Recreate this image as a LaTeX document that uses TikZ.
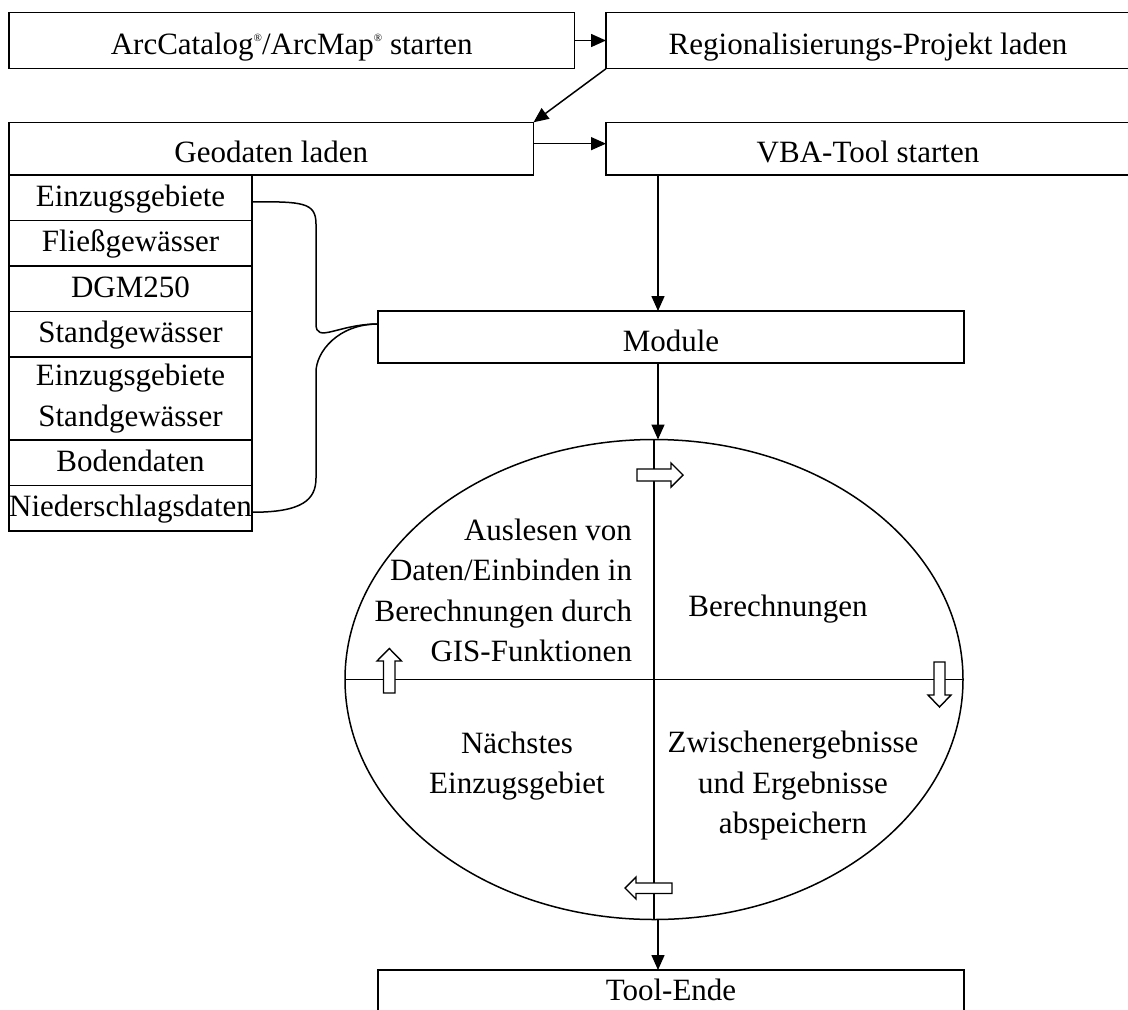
\documentclass[tikz,border=0pt]{standalone}
\usepackage{fontspec}
\setmainfont{Liberation Serif}
\usetikzlibrary{positioning,shapes.geometric,arrows.meta}
\newcommand{\regsym}{\raisebox{13pt}{\fontsize{11}{11}\selectfont ®}}

\begin{document}
\begin{tikzpicture}[x=1pt,y=1pt,yscale=-1,xscale=1,
	every node/.style={font=\fontsize{31}{40.5}\selectfont, inner sep=0pt, outer sep=0pt},
	stepbox/.style={draw, line width=1.5pt, text height=28pt, text depth=0pt},
	item/.style={draw, line width=1.5pt, minimum width=243, minimum height=45.5, text height=23pt, text depth=6pt},
	link/.style={line width=1.5pt, -{Triangle[length=15pt,width=13pt]}},
	bracket/.style={line width=1.5pt},
	hollow/.style={line width=1.4pt, fill=white}]
			\useasboundingbox (0,0) rectangle (1128,1010);
			\clip (0,0) rectangle (1128,1010);
			
			%Boxes top
			\node[stepbox, minimum width=565.5, minimum height=56.4] (arc) at (291.75,40.5) {ArcCatalog\regsym/ArcMap\regsym{} starten};
			\node[stepbox, minimum width=524, minimum height=56.4] (proj) at (868,40.5) {Regionalisierungs-Projekt laden};
			\node[stepbox, minimum width=524.5, minimum height=52.7] (geo) at (271.25,148.65) {Geodaten laden};
			\node[stepbox, minimum width=524, minimum height=52.7] (vba) at (868,148.65) {VBA-Tool starten};
			\node[stepbox, minimum width=586, minimum height=52] (mod) at (671,337) {Module};
			\node[stepbox, minimum width=586, minimum height=60, text depth=27pt] (fin) at (671,1000) {Tool-Ende};
			
			%Geodaten list
			\node[item, anchor=north west] (r1) at (geo.south west) {Einzugsgebiete};
			\node[item, below=0pt of r1] (r2) {Fließgewässer};
			\node[item, below=0pt of r2] (r3) {DGM250};
			\node[item, below=0pt of r3] (r4) {Standgewässer};
			\node[item, below=0pt of r4, minimum height=83, text height=, text depth=, align=center] (r5) {Einzugsgebiete\\Standgewässer};
			\node[item, below=0pt of r5] (r6) {Bodendaten};
			\node[item, below=0pt of r6] (r7) {Niederschlagsdaten};
			
			%Cycle
			\node[draw, ellipse, line width=1.5pt, minimum width=618, minimum height=480] (ell) at (654,679.5) {};
			\draw[line width=1.5pt] (ell.north) -- (ell.south);
			\draw[line width=1.5pt] (ell.west) -- (ell.east);
			
			% Text Node
			\node[anchor=east, align=right] (read) at (632,590.6) {Auslesen von\\Daten/Einbinden in\\Berechnungen durch\\GIS-Funktionen};
			% Text Node
			\node (calc) at (778,609) {Berechnungen};
			% Text Node
			\node[align=center] (next) at (517,766) {Nächstes\\Einzugsgebiet};
			% Text Node
			\node[align=center] (save) at (793,786) {Zwischenergebnisse\\und Ergebnisse\\abspeichern};
			
			%Hollow arrows
			\draw[hollow] (637,469) -- (671,469) -- (671,463) -- (683,475) -- (671,487) -- (671,481) -- (637,481) -- cycle;
			\draw[hollow] (934,662) -- (945,662) -- (945,695) -- (951,695) -- (939.5,707) -- (928,695) -- (934,695) -- cycle;
			\draw[hollow] (672,883) -- (636,883) -- (636,877) -- (625,888) -- (636,899) -- (636,893.5) -- (672,893.5) -- cycle;
			\draw[hollow] (383.5,693) -- (383.5,661) -- (377,661) -- (389.3,648.5) -- (401.5,661) -- (395,661) -- (395,693) -- cycle;
			
			%Connectors
			\coordinate (axis) at (658,0);
			\coordinate (jn) at ([yshift=-13pt]mod.west);
			\draw[link] (arc.east) -- (proj.west);
			\draw[link] (proj.south west) -- (geo.north east);
			\draw[link] ([yshift=-5pt]geo.east) -- ([yshift=-5pt]vba.west);
			\draw[link] (vba.south -| axis) -- (mod.north -| axis);
			\draw[link] (mod.south -| axis) -- (ell.north -| axis);
			\draw[link] (ell.south -| axis) -- (fin.north -| axis);
			\draw[bracket] ([yshift=4pt]r1.east) .. controls +(50,0) and +(0,-22) .. (316,224) -- (316,324) .. controls +(0,20) and +(-40,0) .. (jn);
			\draw[bracket] (jn) .. controls +(-40,0) and +(0,-20) .. (316,372) -- (316,478) .. controls +(0,22) and +(50,0) .. ([yshift=4pt]r7.east);
\end{tikzpicture}
\end{document}
